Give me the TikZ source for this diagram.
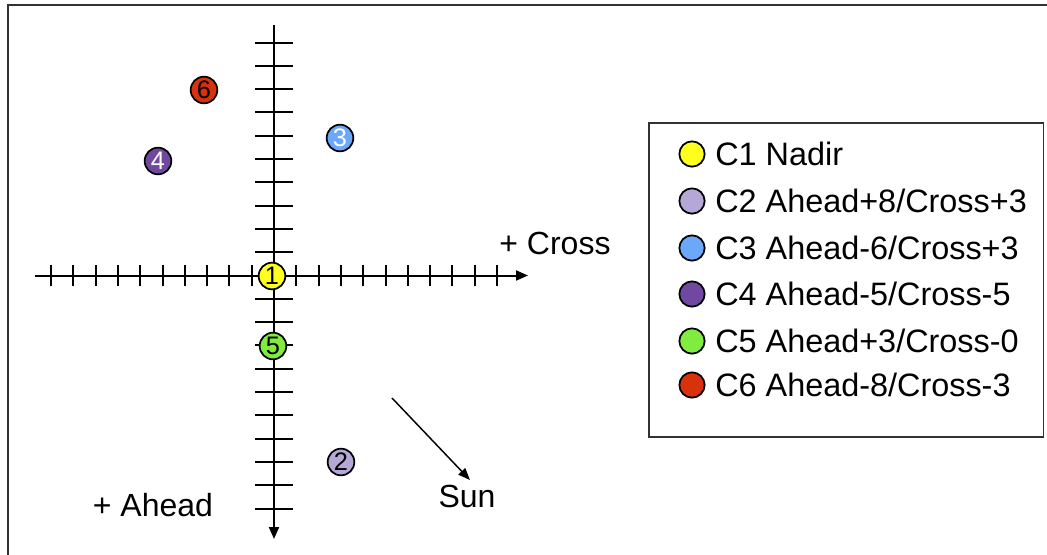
\documentclass[tikz,border=0pt]{standalone}
\usepackage{fontspec}
\setmainfont{Liberation Sans}
\usetikzlibrary{arrows.meta}
\definecolor{cyel}{RGB}{255,255,30}
\definecolor{clav}{RGB}{181,167,214}
\definecolor{cblu}{RGB}{108,168,250}
\definecolor{cpur}{RGB}{112,72,160}
\definecolor{cgrn}{RGB}{128,236,64}
\definecolor{cred}{RGB}{215,50,12}
\definecolor{frm}{RGB}{50,50,50}
\tikzset{
  dot/.style={circle,draw=black,line width=1.3pt,minimum size=20pt,inner sep=0pt,
    font=\fontsize{19}{19}\selectfont},
  ldot/.style={circle,draw=black,line width=1.3pt,minimum size=19pt,inner sep=0pt},
  ltext/.style={anchor=west,inner sep=0pt,font=\fontsize{24.3}{28}\selectfont},
  lbl/.style={inner sep=0pt,font=\fontsize{24}{28}\selectfont},
  axis/.style={line width=1.5pt,-{Triangle[length=9pt,width=7.5pt]}},
  tick/.style={line width=1.5pt},
}
\begin{document}
\begin{tikzpicture}[x=0.75pt,y=-0.75pt]
\useasboundingbox (0,0) rectangle (1047,554);
% outer frame (only top and left visible)
\draw[frm,line width=1.8pt] (8,600) -- (8,5) -- (1100,5);
% axes
\coordinate (hl) at (35,275.5);
\coordinate (hr) at (528,275.5);
\coordinate (vt) at (274,25);
\coordinate (vb) at (274,539);
\draw[axis] (hl) -- (hr);
\draw[axis] (vt) -- (vb);
\foreach \k in {1,...,10}{
  \draw[tick] (274+22.3*\k,265) -- (274+22.3*\k,286);
  \draw[tick] (274-22.3*\k,265) -- (274-22.3*\k,286);
  \draw[tick] (255,275.5+23.3*\k) -- (293,275.5+23.3*\k);
  \draw[tick] (255,275.5-23.3*\k) -- (293,275.5-23.3*\k);
}
% points
\node[dot,fill=cyel] (c1) at (272,276) {1};
\node[dot,fill=clav] (c2) at (341,462) {2};
\node[dot,fill=cblu,text=white] (c3) at (340,138) {3};
\node[dot,fill=cpur,text=white] (c4) at (158,161) {4};
\node[dot,fill=cgrn] (c5) at (273,346) {5};
\node[dot,fill=cred] (c6) at (204,90) {6};
% labels
\node[lbl] (cross) at (555,243) {+ Cross};
\node[lbl] (ahead) at (153,505) {+ Ahead};
\node[lbl] (sun) at (467,496) {Sun};
\coordinate (s0) at (392,398);
\coordinate (s1) at (470,480);
\draw[line width=1.1pt,-{Triangle[length=9pt,width=7pt]}] (s0) -- (s1);
% legend
\node[draw=frm,line width=1.3pt,minimum width=296pt,minimum height=235.5pt,inner sep=0pt,anchor=north west] (leg) at (648,122) {};
\node[ldot,fill=cyel] (l1) at (692,154) {};
\node[ldot,fill=clav] (l2) at (692,201) {};
\node[ldot,fill=cblu] (l3) at (692,248) {};
\node[ldot,fill=cpur] (l4) at (692,294) {};
\node[ldot,fill=cgrn] (l5) at (692,341) {};
\node[ldot,fill=cred] (l6) at (692,385) {};
\node[ltext] (t1) at (715,154) {C1 Nadir};
\node[ltext] (t2) at (715,201) {C2 Ahead+8/Cross+3};
\node[ltext] (t3) at (715,248) {C3 Ahead-6/Cross+3};
\node[ltext] (t4) at (715,294) {C4 Ahead-5/Cross-5};
\node[ltext] (t5) at (715,341) {C5 Ahead+3/Cross-0};
\node[ltext] (t6) at (715,385) {C6 Ahead-8/Cross-3};
\end{tikzpicture}
\end{document}
